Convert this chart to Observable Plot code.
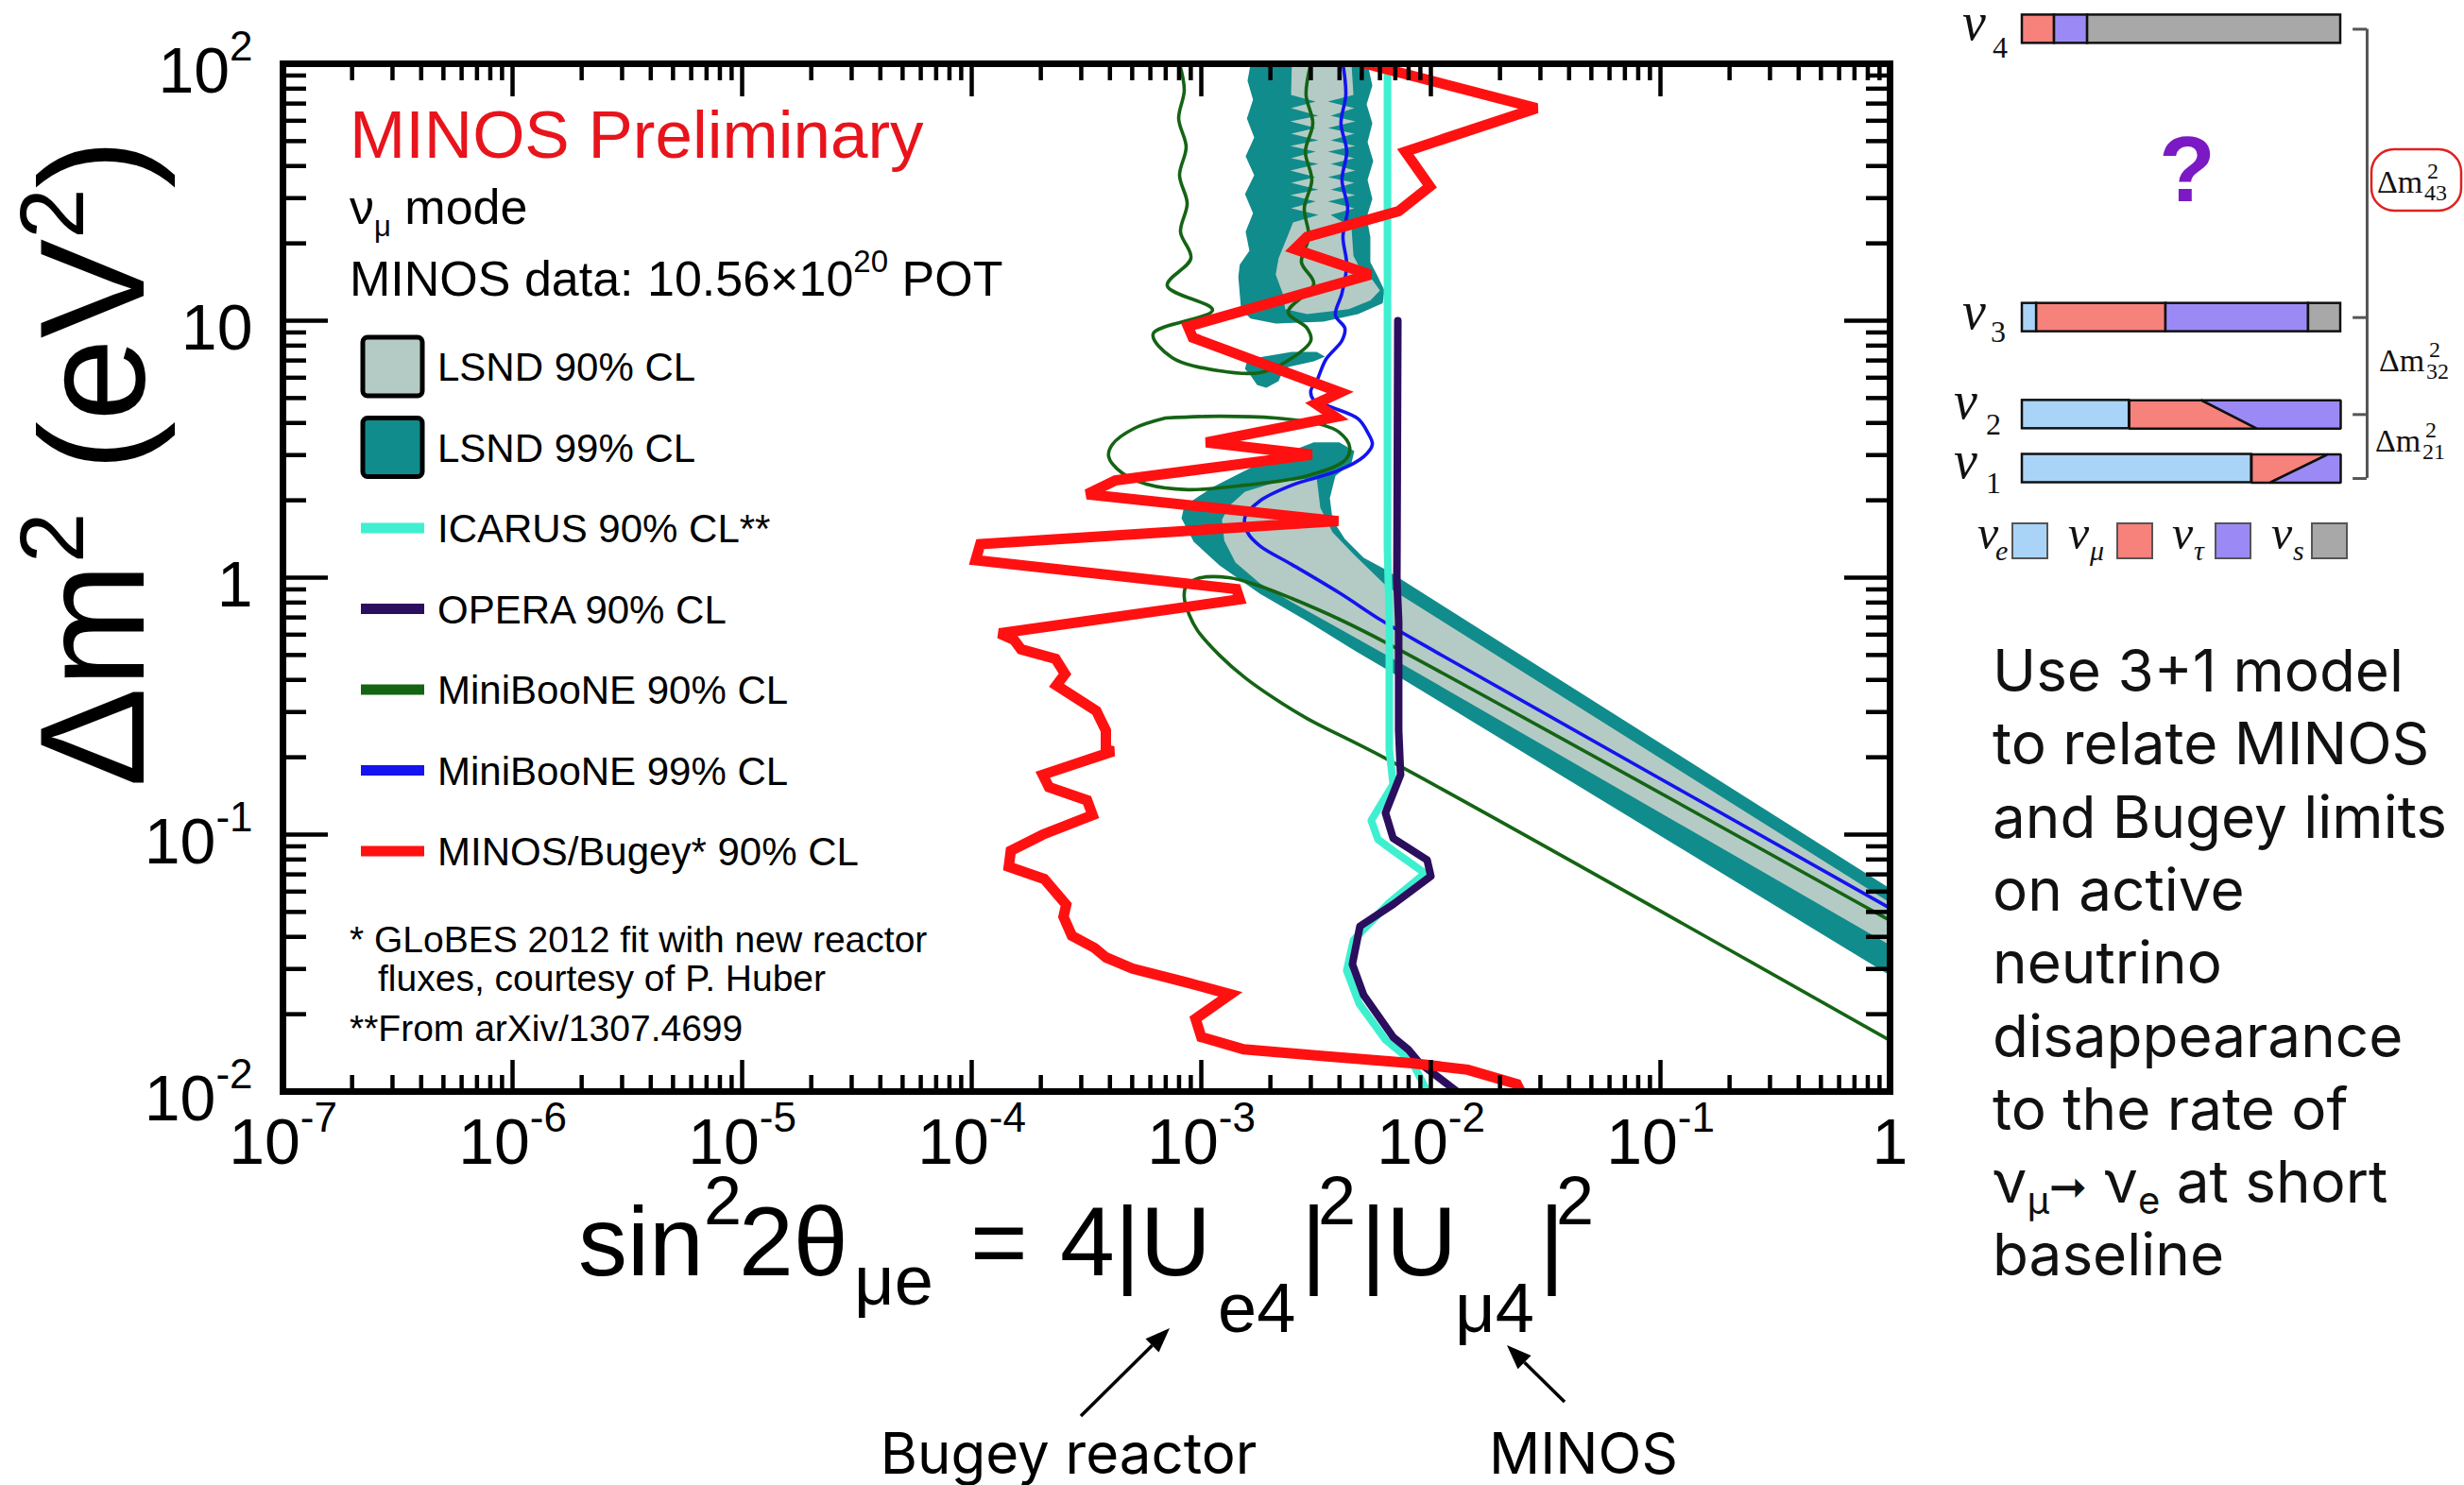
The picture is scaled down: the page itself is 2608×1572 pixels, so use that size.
<!DOCTYPE html>
<html>
<head>
<meta charset="utf-8">
<script src="https://cdn.jsdelivr.net/npm/d3@7"></script>
<script src="https://cdn.jsdelivr.net/npm/@observablehq/plot@0.6"></script>
<style>
html, body { margin: 0; padding: 0; background: #fff; overflow: hidden; }
#wrap { position: relative; width: 2608px; height: 1572px; background: #fff; }
#main { position: absolute; left: 0; top: 0; }
#diagram { position: absolute; left: 2050px; top: 0; width: 558px; height: 620px; }
</style>
</head>
<body>
<div id="wrap"><div id="main"></div><div id="diagram"></div></div>
<script>
// ---------------- DATA (sin^2 2theta, dm^2 in eV^2) ----------------
const xMajor = [1e-7, 1e-6, 1e-5, 1e-4, 1e-3, 1e-2, 1e-1, 1];
const xTickLabels = ["10^-7", "10^-6", "10^-5", "10^-4", "10^-3", "10^-2", "10^-1", "1"];
const yMajor = [1e-2, 1e-1, 1, 10, 100];
const yTickLabels = ["10^-2", "10^-1", "1", "10", "10^2"];

const lsnd99Upper = [[1.64e-3,100],[5.30e-3,100],[5.56e-3,82.3],[5.25e-3,69.5],[5.56e-3,58.7],[5.30e-3,49.5],[5.61e-3,41.8],[5.30e-3,35.3],[5.56e-3,29.8],[5.25e-3,25.2],[5.45e-3,21.2],[5.45e-3,16.9],[5.82e-3,15.1],[6.28e-3,13.1],[6.17e-3,11.7],[4.82e-3,10.6],[3.40e-3,9.92],[2.11e-3,9.75],[1.64e-3,10.2],[1.49e-3,11.1],[1.45e-3,14.8],[1.47e-3,16.5],[1.62e-3,18.7],[1.56e-3,22.2],[1.68e-3,26.2],[1.55e-3,31.1],[1.70e-3,36.8],[1.56e-3,43.6],[1.70e-3,51.7],[1.58e-3,61.2],[1.68e-3,72.5],[1.59e-3,85.9]];
const lsnd99Island = [[1.55e-3,6.49],[1.59e-3,7.07],[1.87e-3,7.25],[2.48e-3,7.56],[3.18e-3,7.56],[3.46e-3,7.25],[3.09e-3,6.95],[2.39e-3,6.61],[2.26e-3,6.33],[2.17e-3,5.82],[1.92e-3,5.48],[1.75e-3,5.62],[1.64e-3,6.12]];
const lsnd99Lower = [[3.09e-3,3.36],[3.99e-3,3.36],[4.64e-3,3.11],[4.51e-3,2.79],[3.84e-3,2.49],[3.63e-3,2.04],[3.73e-3,1.68],[4.22e-3,1.415],[5.10e-3,1.195],[6.41e-3,1.07],[1,0.0617],[1,0.0283],[6.41e-3,0.440],[4.64e-3,0.521],[2.89e-3,0.677],[1.80e-3,0.866],[1.20e-3,1.116],[9.27e-4,1.38],[8.20e-4,1.70],[8.43e-4,1.90],[1.12e-3,2.25],[1.80e-3,2.79]];
const lsnd90Upper = [[2.48e-3,100],[4.51e-3,100],[4.60e-3,75.6],[3.56e-3,71.3],[4.64e-3,67.2],[3.66e-3,62.8],[4.69e-3,59.7],[3.56e-3,56.2],[4.64e-3,53.5],[3.66e-3,50.4],[4.69e-3,47.9],[3.56e-3,45.5],[4.64e-3,42.9],[3.66e-3,40.8],[4.69e-3,38.4],[3.56e-3,36.2],[4.64e-3,34.4],[3.66e-3,32.4],[4.69e-3,30.8],[3.56e-3,29.1],[4.64e-3,27.4],[3.66e-3,25.8],[4.51e-3,23.1],[4.60e-3,17.9],[4.82e-3,16.5],[5.45e-3,14.8],[6.00e-3,13.1],[5.45e-3,12.0],[4.39e-3,11.1],[2.89e-3,10.6],[2.32e-3,11.1],[2.26e-3,12.8],[2.11e-3,15.1],[2.17e-3,17.5],[2.37e-3,21.2],[2.51e-3,24.1],[3.24e-3,25.8],[2.46e-3,27.4],[3.15e-3,29.1],[2.44e-3,30.8],[3.24e-3,32.4],[2.46e-3,34.4],[3.15e-3,36.2],[2.44e-3,38.4],[3.24e-3,40.8],[2.46e-3,42.9],[3.15e-3,45.5],[2.44e-3,47.9],[3.24e-3,50.4],[2.46e-3,53.5],[3.15e-3,56.2],[2.44e-3,59.7],[3.24e-3,62.8],[2.46e-3,67.2],[3.15e-3,71.3],[2.46e-3,75.6]];
const lsnd90Lower = [[3.18e-3,2.45],[3.30e-3,1.87],[3.73e-3,1.50],[4.64e-3,1.225],[6.41e-3,0.927],[1,0.0543],[1,0.0371],[6.41e-3,0.500],[3.99e-3,0.633],[2.48e-3,0.802],[1.80e-3,0.950],[1.41e-3,1.145],[1.26e-3,1.39],[1.23e-3,1.68],[1.32e-3,1.90],[1.55e-3,2.16],[2.11e-3,2.35]];

const miniBooNE90Upper = [[8.04e-4,100],[8.43e-4,78.9],[7.97e-4,61.2],[8.59e-4,47.5],[8.04e-4,36.8],[8.68e-4,28.6],[8.12e-4,22.2],[9.01e-4,17.5],[7.11e-4,13.7],[1.12e-3,11.0],[6.17e-4,8.89],[7.45e-4,7.19],[1.20e-3,6.38],[1.80e-3,6.28],[2.32e-3,6.89],[3.00e-3,8.37],[2.89e-3,9.35],[2.39e-3,10.8],[3.09e-3,13.9],[2.73e-3,16.9],[2.94e-3,21.2],[2.81e-3,27.4],[3.03e-3,35.3],[2.84e-3,45.5],[3.06e-3,58.7],[2.86e-3,75.6],[3.00e-3,100]];
const miniBooNE90Island = [[6.98e-4,4.18],[1.20e-3,4.25],[2.11e-3,4.18],[3.24e-3,3.97],[3.99e-3,3.68],[4.43e-3,3.22],[4.22e-3,2.86],[2.89e-3,2.49],[1.55e-3,2.29],[8.75e-4,2.20],[5.77e-4,2.31],[4.51e-4,2.56],[3.95e-4,2.96],[4.10e-4,3.30],[5.10e-4,3.81],[6.98e-4,4.18]];
const miniBooNE90Lower = [[1,0.0463],[6.41e-3,0.557],[3.99e-3,0.689],[2.48e-3,0.830],[1.80e-3,0.927],[1.32e-3,1.0],[9.63e-4,0.992],[8.59e-4,0.927],[8.43e-4,0.837],[8.85e-4,0.719],[9.63e-4,0.623],[1.20e-3,0.499],[1.55e-3,0.408],[2.11e-3,0.336],[2.89e-3,0.283],[6.41e-3,0.197],[1,0.0158]];
const miniBooNE99 = [[4.14e-3,100],[4.26e-3,75.6],[4.06e-3,58.7],[4.30e-3,45.5],[4.10e-3,35.3],[4.34e-3,27.4],[4.14e-3,21.2],[4.30e-3,16.5],[4.10e-3,12.8],[3.84e-3,10.5],[4.22e-3,9.35],[4.10e-3,8.37],[3.49e-3,7.07],[3.18e-3,5.82],[3.00e-3,5.35],[3.09e-3,4.91],[3.63e-3,4.63],[4.82e-3,4.15],[5.30e-3,3.68],[5.56e-3,3.30],[5.10e-3,2.96],[3.99e-3,2.62],[2.48e-3,2.29],[1.80e-3,1.99],[1.55e-3,1.72],[1.59e-3,1.50],[1.80e-3,1.33],[2.48e-3,1.125],[3.99e-3,0.873],[6.17e-3,0.677],[1.06e-2,0.512],[1,0.0517]];
const icarus90 = [[6.47e-3,100],[6.47e-3,1.30],[6.59e-3,0.677],[6.59e-3,0.214],[6.85e-3,0.157],[5.50e-3,0.1135],[5.88e-3,0.0959],[6.85e-3,0.0866],[9.44e-3,0.0707],[6.59e-3,0.0543],[4.60e-3,0.0388],[4.30e-3,0.0296],[4.87e-3,0.0220],[6.34e-3,0.0159],[8.27e-3,0.0131],[9.63e-3,0.010]];
const opera90 = [[7.18e-3,10],[7.11e-3,0.983],[7.24e-3,0.677],[7.24e-3,0.254],[7.38e-3,0.171],[6.34e-3,0.1215],[6.85e-3,0.0967],[9.63e-3,0.0796],[1.00e-2,0.0689],[6.85e-3,0.0535],[4.91e-3,0.0440],[4.55e-3,0.0313],[5.10e-3,0.0237],[6.85e-3,0.0163],[7.96e-3,0.0146],[8.93e-3,0.0129],[1.08e-2,0.01135],[1.30e-2,0.0100]];
const minosBugey90 = [[0.0052,100],[0.0289,67.2],[0.00774,45.5],[0.0099,33.3],[0.00724,26.7],[0.00289,21.2],[0.00255,19.0],[0.00545,15.1],[0.000875,9.5],[0.000918,8.59],[0.00403,5.26],[0.00315,4.75],[0.00384,4.22],[0.00105,3.36],[0.00303,3.01],[0.000422,2.39],[0.000318,2.11],[0.00395,1.66],[0.000109,1.35],[0.000104,1.17],[0.00142,0.903],[0.00147,0.823],[0.000132,0.607],[0.000153,0.572],[0.000164,0.526],[0.000232,0.483],[0.000255,0.422],[0.000234,0.381],[0.000349,0.303],[0.000384,0.254],[0.000384,0.214],[0.000414,0.211],[0.000204,0.171],[0.000217,0.153],[0.000318,0.136],[0.000336,0.119],[0.000204,0.100],[0.000148,0.0866],[0.000145,0.075],[0.000207,0.0672],[0.000258,0.0534],[0.000251,0.0479],[0.000273,0.0404],[0.000343,0.0362],[0.000384,0.0333],[0.000501,0.0301],[0.000875,0.0265],[0.00134,0.0239],[0.000944,0.0192],[0.0010,0.0163],[0.00153,0.0146],[0.00324,0.0138],[0.00827,0.0129],[0.01446,0.01216],[0.02368,0.0107],[0.0246,0.0100]];

const legendLabels = ["LSND 90% CL", "LSND 99% CL", "ICARUS 90% CL**", "OPERA 90% CL", "MiniBooNE 90% CL", "MiniBooNE 99% CL", "MINOS/Bugey* 90% CL"];
const legendKinds = ["box", "box", "line", "line", "line", "line", "line"];

const noteLines = ["Use 3+1 model", "to relate MINOS", "and Bugey limits", "on active", "neutrino", "disappearance", "to the rate of", "", "baseline"];

// neutrino mass-state diagram
const nuNames = ["4", "3", "2", "1"];
const nuLevel = [8.38, 2.88, 1.03, 0];
const nuRects = [
  [0, 0, 0.101, "mu"], [0, 0.101, 0.205, "tau"], [0, 0.205, 1, "s"],
  [1, 0, 0.045, "e"], [1, 0.045, 0.451, "mu"], [1, 0.451, 0.899, "tau"], [1, 0.899, 1, "s"],
  [2, 0, 0.336, "e"],
  [3, 0, 0.720, "e"]
];
const nuTraps = [ // row, top start, top end, bottom start, bottom end, flavour
  [2, 0.336, 0.564, 0.336, 0.738, "mu"], [2, 0.564, 1, 0.738, 1, "tau"],
  [3, 0.720, 0.959, 0.720, 0.778, "mu"], [3, 0.959, 1, 0.778, 1, "tau"]
];
const bracketLevels = [8.38, 2.88, 1.03, -0.19];
const flavourNames = ["e", "mu", "tau", "s"];
const flavourSymbols = ["e", "μ", "τ", "s"];

// ---------------- STYLE ----------------
const SANS = "'Liberation Sans', Arial, Helvetica, sans-serif";
const SFONT = "Inter, 'Liberation Sans', Arial, sans-serif";
const SERIF = "'Liberation Serif', 'DejaVu Serif', 'Times New Roman', serif";
const TEAL = "#118c8c", LIGHT = "#b4cbc5", CYAN = "#3ff0d0", OPERA_C = "#2c0e5e",
      GREEN = "#146414", BLUE = "#1414ee", RED = "#ff1111";
const flavourColor = {e: "#a9d4f8", mu: "#f7817b", tau: "#9b8af6", s: "#a8a8a8"};
const legendColors = [LIGHT, TEAL, CYAN, OPERA_C, GREEN, BLUE, RED];

const W = 2608, H = 1572, ML = 299, MR = 608, MT = 67, MB = 417;
const FW = W - ML - MR, FH = H - MT - MB;
const xMinor = xMajor.slice(0, -1).flatMap(d => [2,3,4,5,6,7,8,9].map(k => k * d));
const yMinor = yMajor.slice(0, -1).flatMap(d => [2,3,4,5,6,7,8,9].map(k => k * d));
const XY = {x: d => d[0], y: d => d[1], clip: true};
const TK = {stroke: "#000", strokeWidth: 4.5};

const chart = Plot.plot({
  width: W, height: H,
  marginLeft: ML, marginRight: MR, marginTop: MT, marginBottom: MB,
  style: {background: "#fff", fontFamily: SANS, color: "#000", overflow: "visible"},
  x: {type: "log", domain: [1e-7, 1], axis: null},
  y: {type: "log", domain: [1e-2, 1e2], axis: null},
  marks: [
    Plot.line(lsnd99Upper, {...XY, fill: TEAL, stroke: "none"}),
    Plot.line(lsnd99Island, {...XY, fill: TEAL, stroke: "none"}),
    Plot.line(lsnd99Lower, {...XY, fill: TEAL, stroke: "none"}),
    Plot.line(lsnd90Upper, {...XY, fill: LIGHT, stroke: "none"}),
    Plot.line(lsnd90Lower, {...XY, fill: LIGHT, stroke: "none"}),
    Plot.line(miniBooNE90Upper, {...XY, stroke: GREEN, strokeWidth: 3.6, curve: "catmull-rom"}),
    Plot.line(miniBooNE90Island, {...XY, stroke: GREEN, strokeWidth: 3.6, curve: "catmull-rom"}),
    Plot.line(miniBooNE90Lower, {...XY, stroke: GREEN, strokeWidth: 3.6, curve: "catmull-rom"}),
    Plot.line(miniBooNE99, {...XY, stroke: BLUE, strokeWidth: 3.6, curve: "catmull-rom"}),
    Plot.line(icarus90, {...XY, stroke: CYAN, strokeWidth: 8}),
    Plot.line(opera90, {...XY, stroke: OPERA_C, strokeWidth: 8}),
    Plot.line(minosBugey90, {...XY, stroke: RED, strokeWidth: 11, strokeLinejoin: "miter", strokeMiterlimit: 3}),
    Plot.frame({stroke: "#000", strokeWidth: 7}),
    Plot.tickX(xMajor, {x: d => d, insetTop: FH - 33, ...TK}),
    Plot.tickX(xMinor, {x: d => d, insetTop: FH - 17, ...TK}),
    Plot.tickX(xMajor, {x: d => d, insetBottom: FH - 35, ...TK}),
    Plot.tickX(xMinor, {x: d => d, insetBottom: FH - 18, ...TK}),
    Plot.tickY(yMajor, {y: d => d, insetRight: FW - 48, ...TK}),
    Plot.tickY(yMinor, {y: d => d, insetRight: FW - 25, ...TK}),
    Plot.tickY(yMajor, {y: d => d, insetLeft: FW - 48, ...TK}),
    Plot.tickY(yMinor, {y: d => d, insetLeft: FW - 25, ...TK}),
    Plot.text(xMajor, {x: d => d, text: (d, i) => xTickLabels[i], frameAnchor: "bottom", dy: 76, fontSize: 68, textAnchor: "middle", fill: "#000"}),
    Plot.text(yMajor, {y: d => d, text: (d, i) => yTickLabels[i], frameAnchor: "left", dx: -32, dy: 9, fontSize: 68, textAnchor: "end", fill: "#000"})
  ]
});
document.getElementById("main").appendChild(chart);

// superscripts on tick labels
d3.select(chart).selectAll("text").each(function() {
  const s = this.textContent;
  if (!s.includes("^")) return;
  const [b, e] = s.split("^");
  this.textContent = b;
  d3.select(this).append("tspan").attr("font-size", 44).attr("dy", -34).text(e);
});

// ---------------- TEXT / ANNOTATIONS ----------------
const svg = d3.select(chart);
const ann = svg.append("g").attr("font-family", SANS).attr("fill", "#000").attr("text-anchor", "start");

function rich(g, attrs, parts) {
  const t = g.append("text");
  for (const [k, v] of Object.entries(attrs)) t.attr(k, v);
  for (const p of parts) {
    const s = t.append("tspan").text(p.t);
    if (p.x != null) s.attr("x", p.x);
    if (p.y != null) s.attr("y", p.y);
    if (p.dx != null) s.attr("dx", p.dx);
    if (p.dy != null) s.attr("dy", p.dy);
    if (p.size != null) s.attr("font-size", p.size);
    if (p.fill != null) s.attr("fill", p.fill);
    if (p.family != null) s.attr("font-family", p.family);
    if (p.style != null) s.attr("font-style", p.style);
  }
  return t;
}

// in-plot header
ann.append("text").attr("x", 370).attr("y", 167).attr("font-size", 71).attr("fill", "#e8141c").text("MINOS Preliminary");
rich(ann, {x: 370, y: 237, "font-size": 52}, [{t: "ν"}, {t: "μ", size: 31, dy: 13}, {t: " mode", dy: -13}]);
rich(ann, {x: 370, y: 313, "font-size": 52}, [{t: "MINOS data: 10.56×10"}, {t: "20", size: 33, dy: -25}, {t: " POT", dy: 25}]);

// in-plot legend
legendLabels.forEach((lab, i) => {
  const cy = 388 + i * 85.5;
  if (legendKinds[i] === "box") {
    ann.append("rect").attr("x", 384).attr("y", cy - 31).attr("width", 63).attr("height", 62).attr("rx", 5)
      .attr("fill", legendColors[i]).attr("stroke", "#000").attr("stroke-width", 5);
  } else {
    ann.append("line").attr("x1", 382).attr("x2", 449).attr("y1", cy).attr("y2", cy)
      .attr("stroke", legendColors[i]).attr("stroke-width", 11);
  }
  ann.append("text").attr("x", 463).attr("y", cy + 15).attr("font-size", 42).text(lab);
});
ann.append("text").attr("x", 370).attr("y", 1008).attr("font-size", 39).text("* GLoBES 2012 fit with new reactor");
ann.append("text").attr("x", 400).attr("y", 1049).attr("font-size", 39).text("fluxes, courtesy of P. Huber");
ann.append("text").attr("x", 370).attr("y", 1102).attr("font-size", 39).text("**From arXiv/1307.4699");

// y axis title
rich(ann, {transform: "translate(152,490) rotate(-90)", "text-anchor": "middle", "font-size": 158},
  [{t: "Δm"}, {t: "2", size: 96, dy: -64}, {t: " (eV", dy: 64}, {t: "2", size: 96, dy: -64}, {t: ")", dy: 64}]);

// x axis title
rich(ann, {"font-size": 104}, [
  {t: "sin", x: 612, y: 1350},
  {t: "2", x: 745, y: 1296, size: 72},
  {t: "2θ", x: 782, y: 1350},
  {t: "μe", x: 904, y: 1381, size: 74},
  {t: "=", x: 1027, y: 1350},
  {t: "4|U", x: 1122, y: 1350},
  {t: "e4", x: 1289, y: 1410, size: 74},
  {t: "|", x: 1377, y: 1350},
  {t: "2", x: 1395, y: 1296, size: 72},
  {t: "|U", x: 1440, y: 1350},
  {t: "μ4", x: 1540, y: 1410, size: 74},
  {t: "|", x: 1629, y: 1350},
  {t: "2", x: 1647, y: 1296, size: 72}
]);

// arrows and captions
function arrow(x1, y1, x2, y2) {
  const dx = x2 - x1, dy = y2 - y1, L = Math.hypot(dx, dy), ux = dx / L, uy = dy / L;
  const hl = 26, hw = 10;
  const bx = x2 - ux * hl, by = y2 - uy * hl;
  ann.append("line").attr("x1", x1).attr("y1", y1).attr("x2", bx).attr("y2", by).attr("stroke", "#000").attr("stroke-width", 3.5);
  ann.append("path").attr("d", `M${x2},${y2}L${bx - uy * hw},${by + ux * hw}L${bx + uy * hw},${by - ux * hw}Z`).attr("fill", "#000");
}
arrow(1144, 1499, 1238, 1406);
arrow(1656, 1484, 1595, 1424);
ann.append("text").attr("x", 1131).attr("y", 1560).attr("text-anchor", "middle").attr("font-family", SFONT).attr("font-size", 60).text("Bugey reactor");
ann.append("text").attr("x", 1676).attr("y", 1560).attr("text-anchor", "middle").attr("font-family", SFONT).attr("font-size", 60).text("MINOS");

// right-hand note
noteLines.forEach((line, i) => {
  const y = 732 + i * 77.3;
  if (line) {
    ann.append("text").attr("x", 2109).attr("y", y).attr("font-family", SFONT).attr("font-size", 62).attr("fill", "#111").text(line);
  } else {
    rich(ann, {x: 2109, y: y, "font-family": SFONT, "font-size": 62, fill: "#111"}, [
      {t: "ν"}, {t: "μ", size: 40, dy: 12}, {t: "➞", size: 48, dy: -12, family: "'DejaVu Sans', sans-serif"},
      {t: " ν"}, {t: "e", size: 40, dy: 12}, {t: " at short", dy: -12}
    ]);
  }
});

// ---------------- NEUTRINO DIAGRAM ----------------
const half = 0.27;
const diag = Plot.plot({
  width: 558, height: 620, margin: 0,
  style: {background: "transparent", overflow: "visible"},
  color: {type: "identity"},
  x: {domain: [0, 1], range: [90, 427], axis: null},
  y: {domain: [0, 9], range: [495.5, -4], axis: null},
  marks: [
    Plot.rect(nuRects, {x1: d => d[1], x2: d => d[2], y1: d => nuLevel[d[0]] - half, y2: d => nuLevel[d[0]] + half,
      fill: d => flavourColor[d[3]], stroke: "#111", strokeWidth: 2.5}),
    ...nuTraps.map(t => {
      const top = nuLevel[t[0]] + half, bot = nuLevel[t[0]] - half;
      return Plot.line([[t[1], top], [t[2], top], [t[4], bot], [t[3], bot], [t[1], top]],
        {x: d => d[0], y: d => d[1], fill: flavourColor[t[5]], stroke: "#111", strokeWidth: 2.5, strokeLinejoin: "miter"});
    }),
    Plot.ruleX([1.083], {y1: -0.19, y2: 8.38, stroke: "#555", strokeWidth: 3}),
    Plot.ruleY(bracketLevels, {y: d => d, x1: 1.039, x2: 1.083, stroke: "#555", strokeWidth: 3})
  ]
});
document.getElementById("diagram").appendChild(diag);
const dg = d3.select(diag).append("g").attr("font-family", SERIF).attr("fill", "#111").attr("text-anchor", "start");

// ν labels
const nuLabelPos = [[27, 42, 59, 61], [27, 348, 57, 362], [18, 443, 52, 460], [18, 506, 52, 522]];
nuNames.forEach((n, i) => {
  const [x, y, sx, sy] = nuLabelPos[i];
  rich(dg, {"font-style": "italic", "font-size": 56}, [{t: "ν", x: x, y: y}, {t: n, x: sx, y: sy, size: 32, style: "normal"}]);
});
// question mark
dg.append("text").attr("x", 265).attr("y", 213).attr("text-anchor", "middle").attr("font-family", SANS)
  .attr("font-weight", "bold").attr("font-size", 98).attr("fill", "#7b1ac4").text("?");
// Δm² labels
const dmLabels = [["43", 466, 204], ["32", 468, 393], ["21", 464, 478]];
dmLabels.forEach(([s, x, y]) => {
  rich(dg, {"font-size": 34}, [{t: "Δm", x: x, y: y}, {t: "2", x: x + 53, y: y - 15, size: 24}, {t: s, x: x + 50, y: y + 8, size: 24}]);
});
dg.append("rect").attr("x", 460).attr("y", 158).attr("width", 95).attr("height", 65).attr("rx", 24)
  .attr("fill", "none").attr("stroke", "#e02020").attr("stroke-width", 2.5);
// flavour legend
const legX = [[43, 62, 80], [139, 162, 191], [249, 272, 295], [354, 377, 397]];
flavourNames.forEach((f, i) => {
  const [nx, sx, bx] = legX[i];
  rich(dg, {"font-style": "italic", "font-size": 50}, [{t: "ν", x: nx, y: 581}, {t: flavourSymbols[i], x: sx, y: 593, size: 30}]);
  dg.append("rect").attr("x", bx).attr("y", 554).attr("width", 37).attr("height", 37)
    .attr("fill", flavourColor[f]).attr("stroke", "#555").attr("stroke-width", 2);
});
</script>
</body>
</html>
